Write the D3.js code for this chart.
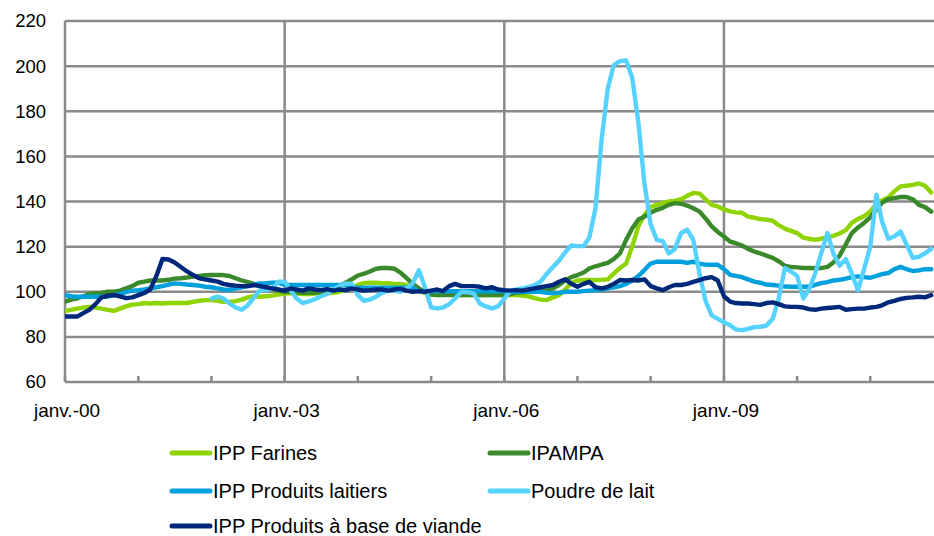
<!DOCTYPE html>
<html><head><meta charset="utf-8">
<script src="https://cdn.jsdelivr.net/npm/d3@7"></script>
<style>body{margin:0;background:#fff}svg{display:block}text{font-family:Arial,"Liberation Sans",sans-serif;fill:#000}</style>
</head><body><svg id="c" width="934" height="536"></svg>
<script>
// Monthly data, Jan 2000 .. Nov 2011
const startYear = 2000;
const seriesNames = ["IPP Farines","IPAMPA","IPP Produits laitiers","Poudre de lait","IPP Produits à base de viande"];
const seriesColors = ["#8fd400","#3a8a2c","#00a0dc","#55d2ff","#00287a"];
const yTicks = [60,80,100,120,140,160,180,200,220];
const xLabelYears = [2000,2003,2006,2009];
const xLabels = ["janv.-00","janv.-03","janv.-06","janv.-09"];

const farines = [91.5,92,92.5,93,93.3,93,92.5,92,91.5,92.5,93.5,94.3,
94.5,95,94.8,95,94.8,95,95,95,95,95.5,96,96.3,
96.3,96,95.5,95.5,95.8,96.5,97.5,98,97.8,98,98.3,98.8,
99.2,99.4,99.2,99,99,99.2,99.5,99.3,99.5,100,101,102,
103,103.8,104,104,103.8,103.8,103.5,103.5,103,102,100.5,99.5,
98.8,98.5,98.8,98.7,98.5,98.5,98.5,98.5,98.5,98.5,98.5,98.5,
98.5,98.5,98.5,98.3,98,97.2,96.5,96.3,97.5,98.5,101,104,
105,105.2,105.2,105.2,105.3,105.5,108,110.5,112.5,120,129,134,
137.5,138.5,139.3,140,140.3,141,142.5,143.8,143.5,141,138.5,137.8,
136.5,135.6,135.2,135,133.3,132.8,132.2,131.9,131.5,129.5,128,127,
126,124,123.5,123,123.5,124.2,124.8,125.8,127.3,130.5,132.3,133.5,
135.5,138.8,140.5,141.8,144.5,146.7,147,147.4,148,147,144];

const ipampa = [95.6,96.5,97,98,99,99.3,99.5,100,100,100.5,101.5,102.5,
104,104.5,105,105,105,105.3,105.8,106,106.3,106.7,107,107.3,
107.4,107.4,107.4,107,106,105,104.3,103.5,103,102,101.2,100.5,
100,100,99.8,99.5,99.5,99.5,99.8,100,101,102.5,104,105.5,
107.2,108,109,110.2,110.5,110.5,110.2,108.5,106,103.5,101.5,100,
98.8,98.5,98.5,98.5,98.5,98.5,98.5,98.5,98.5,98.5,98.5,98.5,
98.5,99,99.5,99.8,100,100,100.3,100.7,101.5,103,105,106.5,
107.4,108.5,110.3,111.3,112,112.8,114.5,117,123,128,132,133.3,
135,136.3,137.2,138.5,139.3,139,138.2,137,135.5,132.5,129,126.5,
124.5,122.2,121.5,120.5,119,117.8,117,116,115,113.5,111.5,111,
110.8,110.5,110.5,110.4,110.5,111,113,116,121,126,128.5,130.5,
133,136.5,139.5,141,141.5,142,142,141,138.5,137.5,135.5];

const laitiers = [98.5,98,97.8,97.8,97.8,97.8,97.8,97.8,98.5,99,99.8,100.5,
100.7,101,101.5,102,102.5,103.2,103.7,103.5,103.2,103,102.7,102.2,
102,101.5,101,100.8,101.5,102,102.5,103.2,103.7,103.8,104,104,
103,103,103,103,103,103,103,103,103,103,103,101.8,
101.8,101.8,101.8,101.8,101.8,101.8,101.8,101.8,101.8,101.8,100.2,100.2,
100.2,100.2,100.2,100.2,100.2,100.2,100.2,100.2,100.2,100.2,100.2,100.2,
100.2,100,100,100,100,100,100,99.5,99.3,99.5,100,100,
100,100.3,100.5,100.7,101,101.5,102,102.5,103.5,105,107,109.6,
112.5,113.3,113.3,113.3,113.3,113.3,112.8,113.3,112.5,112,112,112,
110,107.5,107,106.5,105.5,104.5,104,103.2,103,102.7,102.3,102.2,
102.2,102.2,102.2,103,103.8,104.3,105,105.3,105.8,106.5,106.8,106.5,
106.2,107,107.8,108.3,110,111,110,109.2,109.5,110,110];

const poudre = [null,null,null,null,null,null,null,null,null,null,null,null,
null,null,null,null,null,null,null,null,null,null,null,null,
97,97.8,97,94.8,93,92,94,97.5,100.7,100.7,101.5,104.4,
104.5,100.5,97,95,95.7,96.7,98,99,101,102.5,103.7,103.5,
98.5,96,96.5,97.8,99.5,100.7,100.5,100,101.5,103.7,109.5,102,
93,92.6,93,94.5,97,100,99.8,99.3,94.8,93.5,92.6,93.5,
97,100.5,101,101.5,102,103,104.5,108,111,113.8,117.5,120.5,
120.2,120.3,124,137,167,190,200.5,202.2,202.5,195,175,148,
130,123,122.5,117,119,126,127.5,123,108,96,89.5,88,
86.5,85.2,83.3,83,83.5,84.3,84.5,85,88,97,110.5,109,
107,97,101,108,117,126,117,111.5,114.5,108,100.7,110,
120,143,131,123.5,124.5,126.7,121,115,115.5,117,119];

const viande = [89,89,89,90.5,92,94.5,97.5,98.3,98.5,98,97.2,97.5,
98.5,99.5,101,107,114.5,114.3,113,111,109,107.4,106,105.5,
105,104.5,103.5,103,102.7,102.5,102.5,103,102.5,102,101.5,101,
100.5,101.5,101,100.5,101.5,101,100.7,101.2,100.5,101,100.7,101.5,
101,100.5,100.7,101,101,100.5,101,101.3,100.5,100,100.3,100,
100.5,101,100.3,102.5,103.5,102.5,102.5,102.5,102.2,101.5,102,101,
100.7,100.5,100.7,100.5,101,101.5,102,102.5,103,104.4,105.5,103.5,
102.2,103.5,104.4,102,101.5,102.2,103.5,105.2,105,105.2,105,105.5,
102.5,101.5,100.7,102,103,103,103.5,104.4,105.2,106,106.5,105,
98,95.6,95,94.8,94.8,94.5,94.2,95,95.3,94.5,93.5,93.3,
93.3,93,92.3,92,92.5,92.8,93,93.3,92,92.3,92.5,92.5,
93,93.3,94,95.3,96,96.8,97.3,97.5,97.8,97.5,98.5];

const allSeries = [farines, ipampa, laitiers, poudre, viande];

const svg = d3.select("#c");
const pLeft = 65, pRight = 934, pTop = 21, pBottom = 382;
const x = d3.scaleTime().domain([new Date(2000,0,1), new Date(2011,10,15)]).range([pLeft, pRight]);
const y = d3.scaleLinear().domain([60,220]).range([pBottom, pTop]);
const dateOf = i => new Date(startYear, i, 1);
const grid = "#8a8a8a";

svg.append("g").selectAll("line").data(yTicks).join("line")
  .attr("x1", pLeft).attr("x2", pRight).attr("y1", d=>y(d)).attr("y2", d=>y(d))
  .attr("stroke", grid).attr("stroke-width", 2.5);
svg.append("g").selectAll("line").data(xLabelYears).join("line")
  .attr("x1", d=>x(new Date(d,0,1))).attr("x2", d=>x(new Date(d,0,1)))
  .attr("y1", pTop).attr("y2", pBottom).attr("stroke", grid).attr("stroke-width", 2.5);
const years = d3.range(2000, 2012);
svg.append("g").selectAll("line").data(years).join("line")
  .attr("x1", d=>x(new Date(d,0,1))).attr("x2", d=>x(new Date(d,0,1)))
  .attr("y1", pBottom-6).attr("y2", pBottom).attr("stroke", grid).attr("stroke-width", 2.5);

svg.append("g").selectAll("text").data(yTicks).join("text")
  .attr("x", 46).attr("y", d=>y(d)).attr("dy","0.35em").attr("text-anchor","end")
  .attr("font-size", 18.5).text(d=>d);
svg.append("g").selectAll("text").data(xLabelYears).join("text")
  .attr("x", d=>x(new Date(d,0,1))+2).attr("y", 410).attr("dy","0.35em").attr("text-anchor","middle")
  .attr("font-size", 19).text((d,i)=>xLabels[i]);

const line = d3.line().defined(d=>d.v!=null).x(d=>x(d.t)).y(d=>y(d.v));
svg.append("defs").append("clipPath").attr("id","clip").append("rect")
  .attr("x", pLeft).attr("y", 0).attr("width", pRight-pLeft).attr("height", pBottom);
const lg = svg.append("g").attr("clip-path","url(#clip)");
allSeries.forEach((s, k) => {
  const pts = s.map((v,i)=>({t: dateOf(i), v}));
  lg.append("path").datum(pts).attr("d", line).attr("fill","none")
    .attr("stroke", seriesColors[k]).attr("stroke-width", 4.4)
    .attr("stroke-linejoin","round").attr("stroke-linecap","round");
});

const legPos = [[170,453],[488,453],[170,491],[488,491],[170,526]];
seriesNames.forEach((n,k)=>{
  const [lx,ly] = legPos[k];
  svg.append("line").attr("x1",lx+2).attr("x2",lx+40).attr("y1",ly).attr("y2",ly)
    .attr("stroke",seriesColors[k]).attr("stroke-width",5).attr("stroke-linecap","round");
  svg.append("text").attr("x",lx+43).attr("y",ly).attr("dy","0.35em")
    .attr("font-size",20).text(n);
});
</script></body></html>
